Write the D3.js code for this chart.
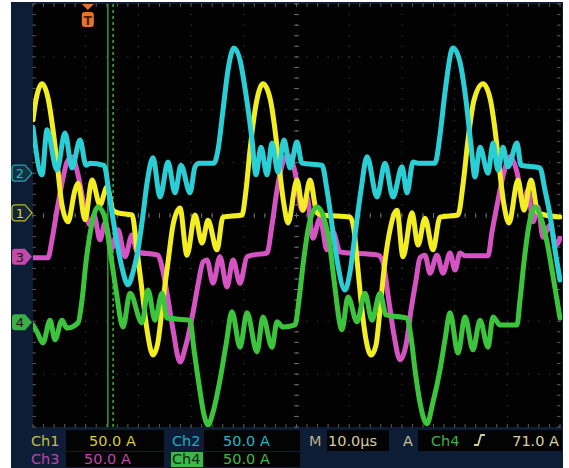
<!DOCTYPE html>
<html><head><meta charset="utf-8">
<script src="https://cdn.jsdelivr.net/npm/d3@7"></script>
<style>html,body{margin:0;background:#fff;}svg{display:block;}</style>
</head><body>
<script>
// ---- data (time in µs, value in screen divisions) ----
const channels = ["Ch1", "Ch2", "Ch3", "Ch4"];
const colors = ["#f2ee22", "#2ccfd6", "#d653c4", "#3ec43e"];
const ch1 = [[0,1.81],[0.57,2.19],[1.71,2.49],[2.85,2.22],[3.80,1.62],[4.55,1.01],[5.50,0.20],[6.64,-0.12],[7.97,0.48],[8.54,0.61],[9.87,-0.08],[11.20,0.67],[12.71,0.20],[14.04,0.54],[15.18,0.10],[16.13,0.05],[18.79,0.01],[19.73,-0.65],[20.68,-1.41],[21.63,-2.16],[22.77,-2.64],[23.72,-2.39],[24.67,-1.60],[25.62,-0.88],[26.57,-0.18],[27.89,0.14],[29.22,-0.75],[30.74,0.01],[32.07,-0.52],[33.21,-0.09],[34.91,-0.65],[36.05,-0.03],[39.66,0.01],[40.42,0.48],[41.18,1.24],[42.13,1.99],[43.64,2.49],[44.97,2.22],[45.92,1.62],[46.68,0.95],[47.63,0.20],[48.39,-0.14],[50.09,0.67],[51.23,0.10],[52.56,0.67],[53.89,0.05],[54.84,0.01],[60.15,-0.03],[60.91,-0.27],[61.67,-1.03],[62.43,-1.79],[63.19,-2.35],[64.14,-2.64],[65.09,-2.45],[65.84,-1.79],[66.60,-1.03],[67.74,-0.27],[69.07,0.10],[70.21,-0.78],[71.92,0.05],[73.06,-0.56],[74.38,-0.05],[75.90,-0.65],[77.23,-0.03],[80.65,0.01],[81.59,0.58],[82.54,1.43],[83.68,2.18],[85.39,2.49],[86.72,2.22],[87.67,1.62],[88.43,0.95],[89.37,0.20],[90.32,-0.14],[92.03,0.67],[93.17,0.10],[94.50,0.67],[95.83,0.05],[97.15,0.01],[100,-0.03]];
const ch2 = [[0,1.67],[1.71,0.77],[2.66,1.62],[4.55,0.86],[6.07,1.56],[7.40,0.90],[8.92,1.43],[10.06,0.95],[10.82,0.99],[13.47,0.95],[14.61,0.29],[15.94,-0.52],[16.89,-0.99],[18.03,-1.31],[18.98,-1.07],[19.92,-0.65],[20.87,0.01],[21.63,0.61],[22.77,1.09],[24.10,0.35],[25.62,1.01],[26.94,0.43],[28.08,0.95],[29.79,0.43],[30.74,0.92],[31.50,0.99],[34.35,0.99],[35.10,1.24],[36.05,1.99],[37.00,2.75],[38.14,3.17],[39.28,2.94],[40.42,2.28],[41.56,1.43],[42.31,0.77],[43.26,1.29],[44.40,0.77],[45.35,1.37],[46.49,0.82],[47.63,1.43],[48.77,0.90],[50.09,1.39],[51.04,0.99],[54.84,0.95],[55.79,0.48],[56.74,-0.18],[57.69,-0.84],[59.20,-1.41],[60.15,-1.07],[61.10,-0.37],[62.24,0.48],[63.38,1.11],[65.28,0.35],[66.79,0.99],[68.31,0.35],[70.02,0.92],[70.97,0.43],[72.11,1.01],[73.06,0.99],[76.28,0.99],[77.23,1.52],[78.18,2.33],[79.70,3.17],[81.02,2.90],[82.16,2.18],[83.11,1.33],[83.87,0.73],[84.82,1.29],[86.34,0.80],[87.29,1.37],[88.24,0.86],[89.18,1.29],[90.13,0.92],[91.84,1.37],[92.60,0.95],[96.20,0.90],[97.15,0.48],[98.10,0.01],[99.05,-0.65],[100,-1.22]];
const ch3 = [[0,-0.80],[2.85,-0.80],[3.61,-0.46],[4.55,0.10],[5.50,0.61],[6.45,1.01],[7.40,1.11],[8.54,0.77],[9.68,0.20],[10.82,-0.18],[11.57,0.01],[12.71,-0.46],[13.66,-0.14],[14.99,-0.61],[16.13,-0.27],[17.46,-0.78],[18.79,-0.37],[19.73,-0.69],[23.72,-0.75],[24.48,-0.97],[25.43,-1.47],[26.57,-2.16],[27.89,-2.77],[29.03,-2.45],[30.36,-1.84],[31.31,-1.31],[32.26,-0.88],[33.02,-0.84],[34.16,-1.28],[35.48,-0.78],[36.81,-1.35],[37.95,-0.84],[39.28,-1.28],[40.61,-0.78],[41.56,-0.75],[44.40,-0.71],[45.35,-0.18],[46.30,0.48],[47.25,0.95],[48.39,1.14],[49.72,0.82],[51.04,0.10],[51.99,0.35],[53.13,-0.43],[54.46,-0.05],[55.79,-0.65],[56.93,-0.31],[58.25,-0.69],[65.46,-0.75],[66.41,-0.88],[67.36,-1.50],[68.50,-2.26],[69.64,-2.73],[70.78,-2.45],[71.73,-1.79],[72.68,-1.22],[73.43,-0.80],[74.38,-0.75],[75.33,-1.09],[76.66,-0.75],[77.80,-1.09],[79.13,-0.71],[80.08,-1.03],[81.02,-0.71],[81.97,-0.76],[86.34,-0.76],[87.10,-0.31],[88.24,0.29],[89.37,0.82],[90.51,1.11],[91.84,0.82],[92.98,0.24],[93.93,0.48],[94.88,-0.12],[95.83,0.16],[96.77,-0.41],[98.10,-0.18],[99.24,-0.56],[100,-0.43]];
const ch4 = [[0,-2.07],[0.76,-2.20],[1.90,-2.41],[3.23,-1.98],[4.17,-2.35],[5.50,-1.98],[6.45,-2.13],[8.54,-2.03],[9.30,-1.60],[10.06,-0.88],[11.01,-0.24],[12.33,0.16],[13.47,0.01],[14.61,-0.65],[15.75,-1.41],[17.08,-2.11],[18.41,-1.47],[20.68,-2.03],[21.82,-1.41],[23.15,-1.98],[24.48,-1.47],[25.43,-1.94],[29.79,-1.98],[30.55,-2.54],[31.50,-3.20],[32.45,-3.77],[33.21,-3.96],[34.16,-3.72],[35.48,-3.11],[36.62,-2.45],[37.76,-1.82],[39.28,-2.49],[40.61,-1.84],[42.50,-2.58],[43.64,-1.92],[45.35,-2.49],[46.30,-2.01],[47.44,-2.11],[49.72,-2.07],[50.47,-1.60],[51.23,-0.94],[52.37,-0.18],[53.89,0.16],[55.22,-0.05],[56.36,-0.60],[57.12,-1.22],[58.63,-2.16],[59.77,-1.54],[61.48,-2.01],[62.99,-1.47],[64.33,-1.98],[65.84,-1.47],[66.98,-1.88],[70.97,-1.94],[71.73,-2.30],[72.49,-2.92],[73.43,-3.54],[74.76,-3.94],[75.90,-3.53],[77.23,-2.92],[78.18,-2.35],[79.13,-1.84],[80.65,-2.60],[81.97,-1.92],[83.49,-2.54],[84.82,-1.98],[86.34,-2.49],[87.29,-1.92],[88.61,-2.07],[91.84,-2.07],[92.41,-1.60],[93.17,-0.88],[94.12,-0.18],[95.26,0.16],[96.39,-0.05],[97.53,-0.50],[98.48,-1.03],[99.43,-1.60],[100,-1.94]];
const groundDiv = [0.05, 0.80, -0.78, -2.02];
const voltsPerDiv = ["50.0 A", "50.0 A", "50.0 A", "50.0 A"];
const timebase = "10.0µs";
const triggerLevel = "71.0 A";
const triggerTime = 10.4;
const cursorTimes = [14.2, 15.2];

const W = 569, H = 468;
const svg = d3.select("body").append("svg").attr("width", W).attr("height", H);
const x = d3.scaleLinear([0, 100], [33, 560]);
const y = d3.scaleLinear([-4, 4], [427, 4]);

// panels
svg.append("rect").attr("x", 11).attr("y", 2).attr("width", 552).attr("height", 466).attr("fill", "#0c1d35");
svg.append("rect").attr("x", 33).attr("y", 4).attr("width", 529).attr("height", 423).attr("fill", "#020202");

const defs = svg.append("defs");
defs.append("clipPath").attr("id", "plotclip").append("rect")
  .attr("x", 33).attr("y", 4).attr("width", 529).attr("height", 423);
defs.append("filter").attr("id", "glow").attr("x", "-5%").attr("y", "-5%").attr("width", "110%").attr("height", "110%")
  .append("feGaussianBlur").attr("stdDeviation", 0.7);

// graticule
const grid = svg.append("g");
const divs = d3.range(0, 11).map(i => i * 10);
const vdivs = d3.range(-4, 5);
const minorX = d3.range(0, 101, 2);
const minorY = d3.range(-4, 4.01, 0.2);
divs.forEach(t => {
  grid.append("g").selectAll("rect").data(minorY).join("rect")
    .attr("x", x(t) - 0.5).attr("y", d => y(d) - 0.5).attr("width", 1).attr("height", 1)
    .attr("fill", t === 50 ? "#8a8a8a" : "#505050");
});
vdivs.forEach(v => {
  grid.append("g").selectAll("rect").data(minorX).join("rect")
    .attr("x", d => x(d) - 0.5).attr("y", y(v) - 0.5).attr("width", 1).attr("height", 1)
    .attr("fill", v === 0 ? "#8a8a8a" : "#505050");
});
// center ticks
const cx = x(50), cy = y(0);
svg.append("g").selectAll("line").data(minorX).join("line")
  .attr("x1", d => x(d)).attr("x2", d => x(d)).attr("y1", cy - 2.5).attr("y2", cy + 2.5)
  .attr("stroke", "#6a6a6a").attr("stroke-width", 1);
svg.append("g").selectAll("line").data(minorY).join("line")
  .attr("y1", d => y(d)).attr("y2", d => y(d)).attr("x1", cx - 2.5).attr("x2", cx + 2.5)
  .attr("stroke", "#6a6a6a").attr("stroke-width", 1);
// edge ticks
[[y(4), 1], [y(-4), -1]].forEach(([yy, s]) => {
  svg.append("g").selectAll("line").data(minorX).join("line")
    .attr("x1", d => x(d)).attr("x2", d => x(d)).attr("y1", yy).attr("y2", yy + s * 3)
    .attr("stroke", "#5a5a5a");
});
[[x(0), 1], [x(100), -1]].forEach(([xx, s]) => {
  svg.append("g").selectAll("line").data(minorY).join("line")
    .attr("y1", d => y(d)).attr("y2", d => y(d)).attr("x1", xx).attr("x2", xx + s * 3)
    .attr("stroke", "#5a5a5a");
});

// cursor lines
svg.append("line").attr("x1", x(cursorTimes[0])).attr("x2", x(cursorTimes[0])).attr("y1", 4).attr("y2", 427)
  .attr("stroke", "#2f9a3a").attr("stroke-width", 1.5);
svg.append("line").attr("x1", x(cursorTimes[1])).attr("x2", x(cursorTimes[1])).attr("y1", 4).attr("y2", 427)
  .attr("stroke", "#3cb044").attr("stroke-width", 1.5).attr("stroke-dasharray", "3 3");

// traces
const line = d3.line().x(d => x(d[0])).y(d => y(d[1])).curve(d3.curveMonotoneX);
const traces = svg.append("g").attr("clip-path", "url(#plotclip)").attr("filter", "url(#glow)");
const order = [2, 0, 1, 3];
const series = [ch1, ch2, ch3, ch4];
order.forEach(i => {
  traces.append("path").attr("d", line(series[i])).attr("fill", "none")
    .attr("stroke", colors[i]).attr("stroke-width", 5)
    .attr("stroke-linejoin", "round").attr("stroke-linecap", "round");
});

// trigger marker
const tx = x(triggerTime);
const trig = svg.append("g");
trig.append("path").attr("d", `M${tx-6},4 L${tx+6},4 L${tx},10 Z`).attr("fill", "#e8742a");
trig.append("rect").attr("x", tx - 6).attr("y", 12).attr("width", 12).attr("height", 15).attr("rx", 3).attr("fill", "#e8742a");
trig.append("text").attr("x", tx).attr("y", 24.5).attr("text-anchor", "middle")
  .attr("font-family", "DejaVu Sans").attr("font-weight", "bold").attr("font-size", 12).attr("fill", "#4a1e06").text("T");

// channel markers
const filled = [false, false, true, true];
const markerFill = ["#14243a", "#0e3444", "#c24aa8", "#3aae48"];
channels.forEach((c, i) => {
  const my = y(groundDiv[i]);
  const g = svg.append("g");
  g.append("path").attr("d", `M15,${my-8} L25,${my-8} L32,${my} L25,${my+8} L15,${my+8} Q12,${my+8} 12,${my+5} L12,${my-5} Q12,${my-8} 15,${my-8} Z`)
    .attr("fill", markerFill[i]).attr("stroke", filled[i] ? "none" : colors[i]).attr("stroke-width", 1.2).attr("stroke-opacity", 0.75);
  g.append("text").attr("x", 20).attr("y", my + 5).attr("text-anchor", "middle")
    .attr("font-family", "DejaVu Sans").attr("font-size", 13)
    .attr("fill", filled[i] ? "#1a0f1c" : d3.color(colors[i]).darker(0.3)).text(String(i + 1));
});

// bottom status area
const bar = svg.append("g").attr("font-family", "DejaVu Sans").attr("font-size", 14.5);
[[66, 430, 98, 21], [204, 430, 96, 21], [327, 430, 62, 21], [418, 430, 144, 21], [66, 452, 98, 15], [204, 452, 96, 15]]
  .forEach(([bx, by, bw, bh]) => bar.append("rect").attr("x", bx).attr("y", by).attr("width", bw).attr("height", bh).attr("fill", "#030303"));
bar.append("rect").attr("x", 171).attr("y", 452).attr("width", 32).attr("height", 15).attr("fill", "#3cb84a");
const txt = (s, tx0, ty, col, anchor) => bar.append("text").attr("x", tx0).attr("y", ty).attr("fill", col)
  .attr("text-anchor", anchor || "start").text(s);
txt(channels[0], 31, 446, "#c6bd3a");
txt(voltsPerDiv[0], 89, 446, "#d6cc3c");
txt(channels[1], 172, 446, "#22a9c2");
txt(voltsPerDiv[1], 223, 446, "#26b6c8");
txt("M", 309, 446, "#b7ae86");
txt(timebase, 328, 446, "#d4cca2");
txt("A", 403, 446, "#c9c19a");
txt(channels[3], 431, 446, "#3fb04e");
txt(triggerLevel, 559, 446, "#d8d0a4", "end");
bar.append("path").attr("d", "M474,445 L478,445 L481,435 L485,435").attr("fill", "none")
  .attr("stroke", "#d0c8a0").attr("stroke-width", 1.8);
txt(channels[2], 31, 463.5, "#c043a8");
txt(voltsPerDiv[2], 84, 463.5, "#c844b0");
txt(channels[3], 172, 463.5, "#0f2a14");
txt(voltsPerDiv[3], 223, 463.5, "#3cbc4a");
</script>
</body></html>
